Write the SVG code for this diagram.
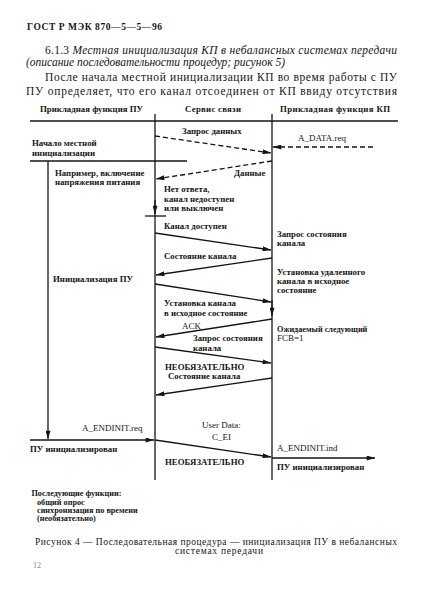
<svg xmlns="http://www.w3.org/2000/svg" width="422" height="610" viewBox="0 0 422 610">
<style>
text { font-family: "Liberation Serif", "DejaVu Serif", serif; fill: #151515; }
.body { font-size: 11.5px; }
.it { font-style: italic; }
.b { font-size: 8.8px; font-weight: bold; }
.s { font-size: 8.2px; font-weight: bold; }
.n { font-size: 9px; }
.ln { stroke: #151515; stroke-width: 1.3; fill: none; }
.ds { stroke-dasharray: 5 3; }
</style>
<defs>
<marker id="arr" viewBox="0 0 10 6" refX="10" refY="3" markerWidth="9" markerHeight="5" markerUnits="userSpaceOnUse" orient="auto">
<path d="M0,0 L10,3 L0,6 z" fill="#151515"/>
</marker>
</defs>
<rect width="422" height="610" fill="#ffffff"/>

<g id="page-text">
<text x="27" y="30" style="font-size:9.5px;font-weight:bold" textLength="135" lengthAdjust="spacing">ГОСТ Р МЭК 870—5—5—96</text>
<text class="body" x="45" y="54" textLength="352" lengthAdjust="spacing">6.1.3 <tspan class="it">Местная инициализация КП в небалансных системах передачи</tspan></text>
<text class="body it" x="26" y="65.5">(описание последовательности процедур; рисунок 5)</text>
<text class="body" x="45" y="81" textLength="352" lengthAdjust="spacing">После начала местной инициализации КП во время работы с ПУ</text>
<text class="body" x="26" y="95" textLength="371" lengthAdjust="spacing">ПУ определяет, что его канал отсоединен от КП ввиду отсутствия</text>
</g>

<g id="header">
<line class="ln" x1="30" y1="121" x2="398" y2="121"/>
</g>

<g id="col-pu">
<text class="b" x="40" y="112" textLength="103" lengthAdjust="spacing">Прикладная функция ПУ</text>
<line class="ln" x1="155" y1="114" x2="155" y2="480"/>
</g>

<g id="col-service">
<text class="b" x="185" y="112" textLength="56" lengthAdjust="spacing">Сервис связи</text>
</g>

<g id="col-kp">
<text class="b" x="280" y="112" textLength="110" lengthAdjust="spacing">Прикладная функция КП</text>
<line class="ln" x1="272" y1="114" x2="272" y2="480"/>
</g>

<g id="pu-start">
<text class="b" x="32" y="146">Начало местной</text>
<text class="b" x="32" y="156">инициализации</text>
<line class="ln" x1="30" y1="161" x2="187" y2="161"/>
</g>

<g id="pu-init">
<text class="b" x="55" y="176">Например, включение</text>
<text class="b" x="55" y="185">напряжения питания</text>
<text class="b" x="53" y="282">Инициализация ПУ</text>
<text class="n" x="82" y="431">A_ENDINIT.req</text>
<text class="b" x="30" y="452">ПУ инициализирован</text>
</g>

<g id="service-notes">
<text class="b" x="164" y="191.5">Нет ответа,</text>
<text class="b" x="164" y="201.5">канал недоступен</text>
<text class="b" x="164" y="210.5">или выключен</text>
<line class="ln" x1="145" y1="216" x2="166" y2="216"/>
<text class="b" x="164" y="229">Канал доступен</text>
</g>

<g id="kp-notes">
<text class="n" x="298" y="141">A_DATA.req</text>
<text class="b" x="277" y="237">Запрос состояния</text>
<text class="b" x="277" y="246">канала</text>
<text class="b" x="277" y="275">Установка удаленного</text>
<text class="b" x="277" y="284">канала в исходное</text>
<text class="b" x="277" y="293">состояние</text>
<text class="s" x="277" y="331.5">Ожидаемый следующий</text>
<text class="n" x="277" y="341">FCB=1</text>
<text class="n" x="277" y="451">A_ENDINIT.ind</text>
<text class="b" x="277" y="470">ПУ инициализирован</text>
</g>

<g id="connectors">
<line class="ln ds" x1="155" y1="136" x2="271" y2="153" marker-end="url(#arr)"/>
<line class="ln ds" x1="373" y1="147" x2="273" y2="147" marker-end="url(#arr)"/>
<line class="ln ds" x1="272" y1="161" x2="156" y2="179" marker-end="url(#arr)"/>
<line class="ln" x1="155" y1="200" x2="155" y2="214" marker-end="url(#arr)"/>
<line class="ln" x1="155" y1="233" x2="271" y2="250" marker-end="url(#arr)"/>
<line class="ln" x1="272" y1="258" x2="156" y2="275" marker-end="url(#arr)"/>
<line class="ln" x1="155" y1="284" x2="271" y2="302" marker-end="url(#arr)"/>
<line class="ln" x1="272" y1="300" x2="272" y2="316" marker-end="url(#arr)"/>
<line class="ln" x1="272" y1="319" x2="156" y2="337" marker-end="url(#arr)"/>
<line class="ln" x1="155" y1="347" x2="271" y2="363" marker-end="url(#arr)"/>
<line class="ln" x1="272" y1="378" x2="156" y2="395" marker-end="url(#arr)"/>
<line class="ln" x1="48" y1="161" x2="48" y2="439" marker-end="url(#arr)"/>
<line class="ln" x1="30" y1="440" x2="154" y2="440" marker-end="url(#arr)"/>
<line class="ln" x1="155" y1="440" x2="271" y2="457" marker-end="url(#arr)"/>
<line class="ln" x1="272" y1="458" x2="375" y2="458" marker-end="url(#arr)"/>
</g>

<g id="message-labels">
<text class="b" x="182" y="134">Запрос данных</text>
<text class="b" x="234" y="176">Данные</text>
<text class="b" x="164" y="259">Состояние канала</text>
<text class="b" x="164" y="306">Установка канала</text>
<text class="b" x="164" y="316">в исходное состояние</text>
<text class="n" x="182" y="328.5">ACK</text>
<text class="b" x="193" y="341">Запрос состояния</text>
<text class="b" x="193" y="351">канала</text>
<text class="b" x="165" y="370">НЕОБЯЗАТЕЛЬНО</text>
<text class="b" x="168" y="379">Состояние канала</text>
<text class="n" x="202" y="428">User Data:</text>
<text class="n" x="212" y="440">C_EI</text>
<text class="b" x="165" y="465">НЕОБЯЗАТЕЛЬНО</text>
</g>

<g id="subsequent">
<text class="s" x="31.5" y="496">Последующие функции:</text>
<text class="s" x="37" y="504.5">общий опрос</text>
<text class="s" x="37" y="512.5">синхронизация по времени</text>
<text class="s" x="37" y="520.5">(необязательно)</text>
</g>

<g id="caption">
<text x="35" y="545" style="font-size:9.5px" textLength="362" lengthAdjust="spacing">Рисунок 4 — Последовательная  процедура — инициализация ПУ  в  небалансных</text>
<text x="175" y="553.5" style="font-size:9.5px" textLength="88" lengthAdjust="spacing">системах передачи</text>
<text x="33" y="568" style="font-size:8px;fill:#888888">12</text>
</g>
</svg>
